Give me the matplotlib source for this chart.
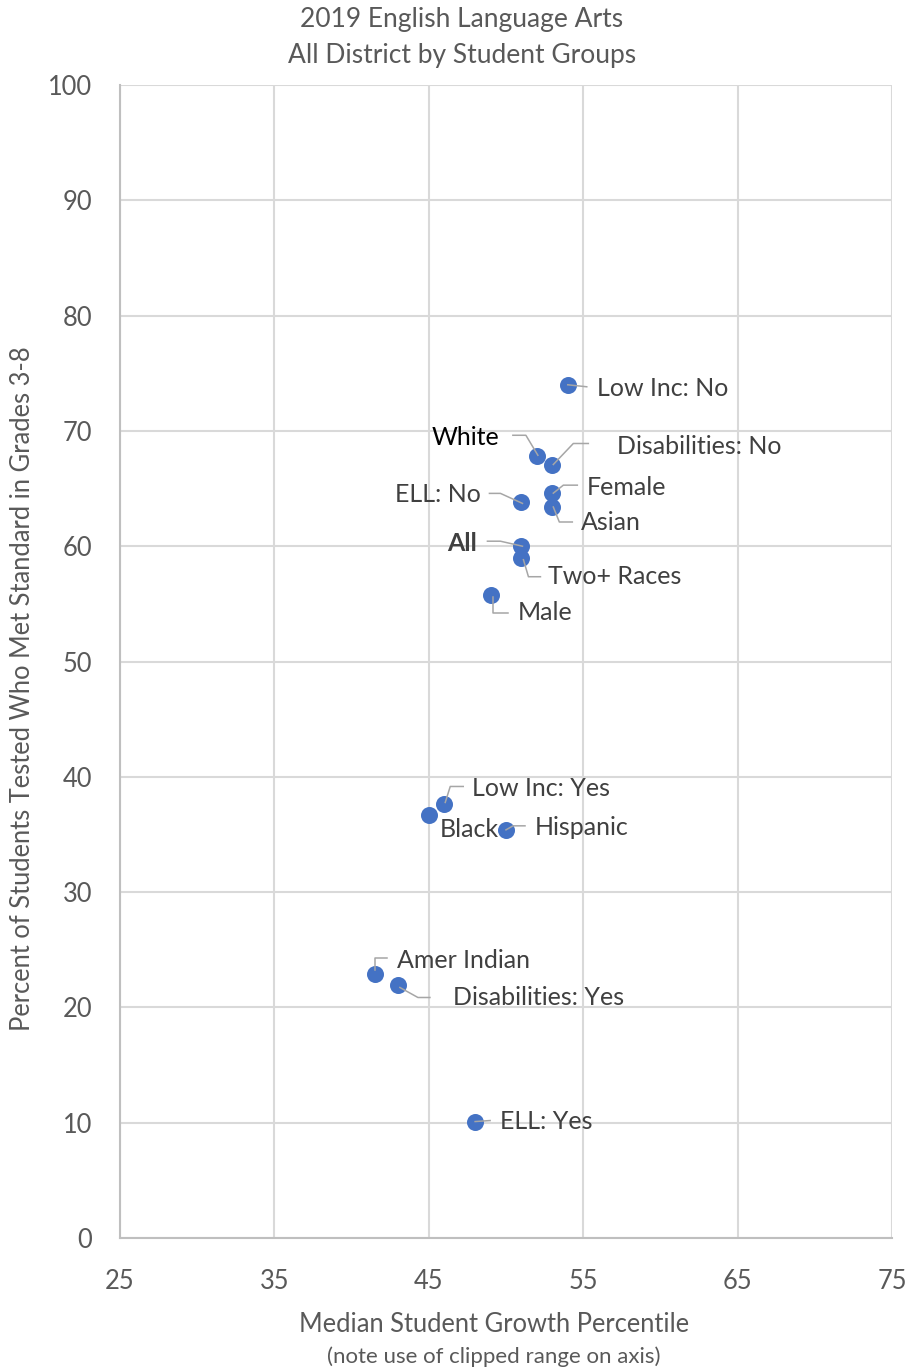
import numpy as np
import matplotlib as mpl
import matplotlib.pyplot as plt
from matplotlib.lines import Line2D
from matplotlib.transforms import IdentityTransform

###############################################################################
groups = ['Low Inc: No', 'White', 'Disabilities: No', 'Female', 'Asian',
          'ELL: No', 'All', 'Two+ Races', 'Male', 'Low Inc: Yes', 'Black',
          'Hispanic', 'Amer Indian', 'Disabilities: Yes', 'ELL: Yes']
growth = [54, 52, 53, 53, 53, 51, 51, 51, 49, 46, 45, 50, 41.5, 43, 48]
pct_met = [74.0, 67.8, 67.0, 64.6, 63.4, 63.8, 60.0, 59.0, 55.8, 37.6, 36.7,
           35.4, 22.9, 21.9, 10.1]

x_ticks = [25, 35, 45, 55, 65, 75]
y_ticks = [0, 10, 20, 30, 40, 50, 60, 70, 80, 90, 100]

# label placement (pixels from the point, y down), text alignment, leader path
label_offsets = [(29, 4), (-38, -19), (65, -19), (34, -6), (29, 16),
                 (-41, -8), (-44, -3), (27, 19), (27, 18), (28, -16),
                 (11, 15), (29, -2), (22, -13), (55, 12), (25, 0)]
label_ha = ['left', 'right', 'left', 'left', 'left', 'right', 'right', 'left',
            'left', 'left', 'left', 'left', 'left', 'left', 'left']
leaders = [[(0, 0), (19, 2)],
           [(1, -1), (-11, -21), (-24, -21)],
           [(1, -1), (21, -22), (36, -22)],
           [(1, 0), (11, -8), (25, -8)],
           [(1, 0), (7, 15), (20, 15)],
           [(1, 1), (-21, -9), (-32, -9)],
           [(1, 0), (-21, -5), (-34, -5)],
           [(2, 2), (7, 19), (19, 19)],
           [(2, 2), (2, 18), (17, 18)],
           [(1, -2), (6, -18), (19, -18)],
           [],
           [(0, 0), (7, -4), (19, -4)],
           [(0, -4), (0, -16), (12, -16)],
           [(2, 2), (20, 12), (32, 12)],
           [(0, 0), (15, -1)]]

dot_color = '#4472C4'
text_color = '#595959'
label_color = '#404040'
grid_color = '#D9D9D9'
###############################################################################

plt.rcParams['font.family'] = ['Lato', 'DejaVu Sans']

fig = plt.figure(figsize=(9.11, 13.71), dpi=100)
ax = fig.add_axes([120/911, 133/1371, 772/911, 1153/1371])

ax.set_xlim(25, 75)
ax.set_ylim(0, 100)
ax.set_xticks(x_ticks)
ax.set_yticks(y_ticks)
ax.grid(True, color=grid_color, linewidth=1.5)
ax.set_axisbelow(True)
for side in ['top', 'right']:
    ax.spines[side].set_visible(False)
for side in ['left', 'bottom']:
    ax.spines[side].set_color('#BFBFBF')
    ax.spines[side].set_linewidth(1.5)
ax.tick_params(axis='both', length=0, labelsize=18.4, colors=text_color)
ax.tick_params(axis='y', pad=20)
ax.tick_params(axis='x', pad=22)

ax.scatter(growth, pct_met, s=150, color=dot_color, zorder=3, linewidths=0)

for i, name in enumerate(groups):
    px, py = ax.transData.transform((growth[i], pct_met[i]))
    if leaders[i]:
        xs = [px + dx for dx, dy in leaders[i]]
        ys = [py - dy for dx, dy in leaders[i]]
        fig.add_artist(Line2D(xs, ys, transform=IdentityTransform(),
                              color='#A6A6A6', linewidth=1.1, zorder=4))
    color = label_color
    weight = 'normal'
    if name == 'White':
        color = 'black'
    if name == 'All':
        weight = 'bold'
    dx, dy = label_offsets[i]
    ax.annotate(name, (growth[i], pct_met[i]), xytext=(dx, -dy),
                textcoords='offset pixels', ha=label_ha[i], va='center',
                fontsize=18, color=color, fontweight=weight, zorder=5)

fig.text(462/911, 1 - 20/1371, '2019 English Language Arts', ha='center',
         va='center', fontsize=19, color=text_color)
fig.text(462/911, 1 - 56/1371, 'All District by Student Groups', ha='center',
         va='center', fontsize=19, color=text_color)
fig.text(494/911, 1 - 1325/1371, 'Median Student Growth Percentile',
         ha='center', va='center', fontsize=18.4, color=text_color)
fig.text(494/911, 1 - 1357/1371, '(note use of clipped range on axis)',
         ha='center', va='center', fontsize=16, color=text_color)
fig.text(23/911, 1 - 689/1371,
         'Percent of Students Tested Who Met Standard in Grades 3-8',
         ha='center', va='center', rotation=90, fontsize=18.4, color=text_color)

fig.savefig('out.png', dpi=100)
plt.close()
